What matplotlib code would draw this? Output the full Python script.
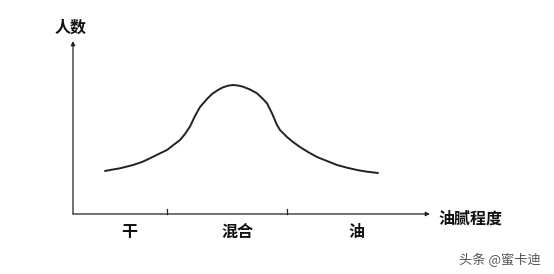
import matplotlib
matplotlib.use("Agg")
import matplotlib.pyplot as plt

# curve (x = oiliness, y = number of people)
curve_x = [32, 37, 47, 60, 69, 77, 85, 94, 100, 107, 112, 117, 122, 127, 134, 139, 145, 150, 155,
           160, 165, 170, 177, 184, 190, 194, 199, 204, 207, 214, 220, 227, 235, 244, 254, 264,
           274, 284, 294, 305]
curve_y = [43, 44, 45.7, 49, 52, 55.7, 59.7, 64, 68.7, 74, 80, 87.5, 98, 107, 115, 120, 124,
           126.7, 128.3, 129, 128.5, 127.3, 124.5, 120.7, 115, 110.7, 100.7, 89, 84, 77, 72,
           67, 62, 57, 53, 49, 46.3, 44, 42.3, 41]

tick_x = [94, 214]
categories = ["干", "混合", "油"]
category_x = [56, 164, 283]

x_label = "油腻程度"
y_label = "人数"
watermark = "头条 @蜜卡迪"

plt.rcParams['font.family'] = ['Noto Sans CJK SC', 'DejaVu Sans']

fig = plt.figure(figsize=(5.54, 2.74), dpi=100, facecolor='white')
ax = fig.add_axes([0, 0, 1, 1])
# origin of the drawn axes sits at pixel (73, 214)
ax.set_xlim(-73, 554 - 73)
ax.set_ylim(214 - 274, 214)
ax.axis('off')

# axes with arrows
arrow = dict(arrowstyle='-|>', color='#222222', lw=0.9, mutation_scale=6, shrinkA=0, shrinkB=0)
ax.annotate('', xy=(357, 0), xytext=(0, 0), arrowprops=arrow)
ax.annotate('', xy=(0, 173), xytext=(0, 0), arrowprops=arrow)

# small ticks
for tx in tick_x:
    ax.plot([tx, tx], [0, 5], color='#222222', lw=0.9)

ax.plot(curve_x, curve_y, color='#222222', lw=1.4, solid_capstyle='round', solid_joinstyle='round')

bold = dict(fontsize=11.5, fontweight='bold', color='#111111', ha='center', va='center')
for name, cx in zip(categories, category_x):
    ax.text(cx, -17.5, name, **bold)
ax.text(-2, 186, y_label, **bold)
ax.text(397, -5, x_label, **bold)
ax.text(427, -46, watermark, fontsize=9.5, color='#555555', ha='center', va='center')

fig.savefig("out.png", dpi=100, facecolor='white')
